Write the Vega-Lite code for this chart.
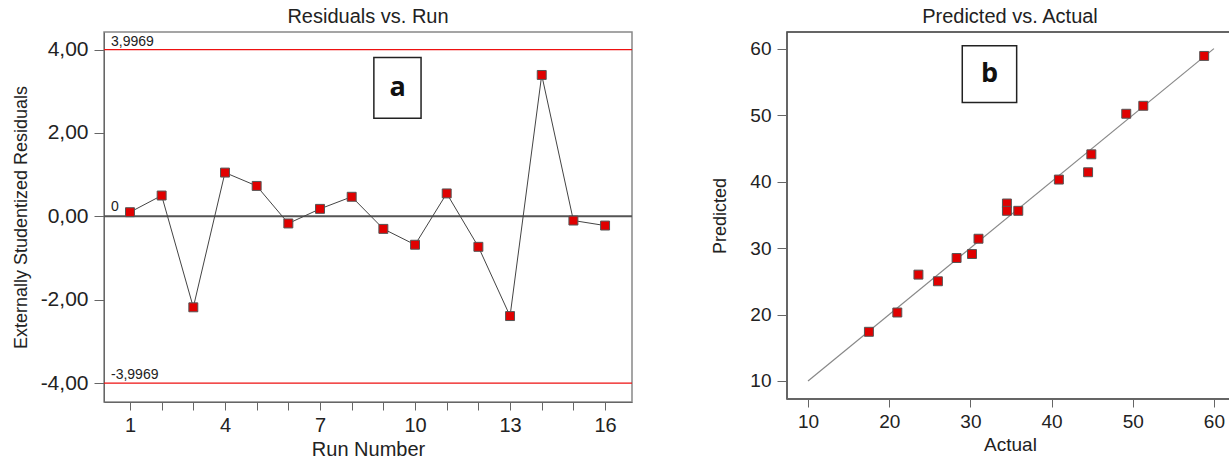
{
  "$schema": "https://vega.github.io/schema/vega-lite/v6.json",
  "padding": {"left": 11, "top": 6, "right": 0, "bottom": 0},
  "spacing": 77,
  "background": "white",
  "datasets": {
    "resid": [
      {"run": 1, "res": 0.1}, {"run": 2, "res": 0.5}, {"run": 3, "res": -2.18},
      {"run": 4, "res": 1.05}, {"run": 5, "res": 0.73}, {"run": 6, "res": -0.17},
      {"run": 7, "res": 0.18}, {"run": 8, "res": 0.47}, {"run": 9, "res": -0.3},
      {"run": 10, "res": -0.68}, {"run": 11, "res": 0.55}, {"run": 12, "res": -0.73},
      {"run": 13, "res": -2.39}, {"run": 14, "res": 3.39}, {"run": 15, "res": -0.1},
      {"run": 16, "res": -0.22}
    ],
    "limits": [
      {"res": 3.9969, "label": "3,9969", "run": 0.4},
      {"res": -3.9969, "label": "-3,9969", "run": 0.4}
    ],
    "zero": [{"res": 0, "label": "0", "run": 0.4}],
    "boxa": [{"run": 8.7, "run2": 10.19, "res": 3.81, "res2": 2.35, "label": "a", "mid": 9.45, "midy": 3.08}],
    "pva": [
      {"actual": 17.5, "pred": 17.4}, {"actual": 21.0, "pred": 20.3}, {"actual": 23.6, "pred": 26.0},
      {"actual": 26.0, "pred": 25.0}, {"actual": 28.3, "pred": 28.5}, {"actual": 30.2, "pred": 29.1},
      {"actual": 31.0, "pred": 31.4}, {"actual": 34.5, "pred": 36.7}, {"actual": 34.5, "pred": 35.6},
      {"actual": 35.9, "pred": 35.6}, {"actual": 40.9, "pred": 40.3}, {"actual": 44.5, "pred": 41.4},
      {"actual": 44.9, "pred": 44.1}, {"actual": 49.2, "pred": 50.2}, {"actual": 51.3, "pred": 51.4},
      {"actual": 58.8, "pred": 58.9}
    ],
    "diag": [{"actual": 10, "pred": 10}, {"actual": 60, "pred": 60}],
    "boxb": [{"actual": 29.0, "actual2": 35.7, "pred": 60.45, "pred2": 51.9, "label": "b", "mid": 32.35, "midy": 56.2}]
  },
  "config": {
    "font": "Liberation Sans",
    "axis": {
      "labelFont": "Liberation Sans",
      "titleFont": "Liberation Sans",
      "titleFontWeight": "normal",
      "labelColor": "#222",
      "titleColor": "#222",
      "domainColor": "#666",
      "tickColor": "#666",
      "grid": false,
      "tickSize": 10,
      "labelPadding": 6
    },
    "title": {"font": "Liberation Sans", "fontWeight": "normal", "color": "#222", "fontSize": 20, "offset": 5}
  },
  "hconcat": [
    {
      "width": 528,
      "height": 370,
      "title": "Residuals vs. Run",
      "view": {"stroke": "#888", "strokeWidth": 1.5},
      "layer": [
        {
          "data": {"name": "limits"},
          "mark": {"type": "rule", "color": "#ee1111", "strokeWidth": 1.2},
          "encoding": {
            "y": {"field": "res", "type": "quantitative", "title": "Externally Studentized Residuals"}
          }
        },
        {
          "data": {"name": "zero"},
          "mark": {"type": "rule", "color": "#555", "strokeWidth": 2},
          "encoding": {
            "y": {"field": "res", "type": "quantitative", "title": "Externally Studentized Residuals"}
          }
        },
        {
          "data": {"name": "limits"},
          "mark": {"type": "text", "align": "left", "baseline": "bottom", "dy": -1, "fontSize": 14, "color": "#222"},
          "encoding": {
            "x": {"field": "run", "type": "quantitative", "title": "Run Number"},
            "y": {"field": "res", "type": "quantitative", "title": "Externally Studentized Residuals"},
            "text": {"field": "label"}
          }
        },
        {
          "data": {"name": "zero"},
          "mark": {"type": "text", "align": "left", "baseline": "bottom", "dy": -2, "fontSize": 14, "color": "#222"},
          "encoding": {
            "x": {"field": "run", "type": "quantitative", "title": "Run Number"},
            "y": {"field": "res", "type": "quantitative", "title": "Externally Studentized Residuals"},
            "text": {"field": "label"}
          }
        },
        {
          "data": {"name": "boxa"},
          "mark": {"type": "rect", "fill": "white", "stroke": "#222", "strokeWidth": 1.5},
          "encoding": {
            "x": {"field": "run", "type": "quantitative", "title": "Run Number"},
            "x2": {"field": "run2"},
            "y": {"field": "res", "type": "quantitative", "title": "Externally Studentized Residuals"},
            "y2": {"field": "res2"}
          }
        },
        {
          "data": {"name": "boxa"},
          "mark": {"type": "text", "font": "Open Sans", "fontWeight": "bold", "fontSize": 27, "color": "#111", "baseline": "middle"},
          "encoding": {
            "x": {"field": "mid", "type": "quantitative", "title": "Run Number"},
            "y": {"field": "midy", "type": "quantitative", "title": "Externally Studentized Residuals"},
            "text": {"field": "label"}
          }
        },
        {
          "data": {"name": "resid"},
          "mark": {"type": "line", "color": "#444", "strokeWidth": 1},
          "encoding": {
            "x": {"field": "run", "type": "quantitative", "title": "Run Number"},
            "y": {"field": "res", "type": "quantitative", "title": "Externally Studentized Residuals"}
          }
        },
        {
          "data": {"name": "resid"},
          "mark": {"type": "point", "shape": "square", "size": 80, "filled": true, "fill": "#e00000", "stroke": "#555", "strokeWidth": 1, "opacity": 1},
          "encoding": {
            "x": {
              "field": "run", "type": "quantitative", "title": "Run Number",
              "scale": {"domain": [0.18, 16.85], "nice": false, "zero": false},
              "axis": {
                "values": [1, 2, 3, 4, 5, 6, 7, 8, 9, 10, 11, 12, 13, 14, 15, 16],
                "tickCount": 20,
                "labelOpacity": {"condition": {"test": "datum.value == 1 || datum.value == 4 || datum.value == 7 || datum.value == 10 || datum.value == 13 || datum.value == 16", "value": 1}, "value": 0},
                "labelOverlap": false,
                "tickSize": 8,
                "labelPadding": 5,
                "labelFontSize": 20, "titleFontSize": 20, "titlePadding": 4, "labelFlush": false
              }
            },
            "y": {
              "field": "res", "type": "quantitative", "title": "Externally Studentized Residuals",
              "scale": {"domain": [-4.45, 4.42], "nice": false, "zero": false},
              "axis": {
                "values": [-4, -2, 0, 2, 4],
                "labelExpr": "replace(replace(format(datum.value, '.2f'), '.', ','), '−', '-')",
                "labelFontSize": 21, "titleFontSize": 18, "titlePadding": 10
              }
            }
          }
        }
      ]
    },
    {
      "width": 446,
      "height": 367,
      "title": "Predicted vs. Actual",
      "view": {"stroke": "#333", "strokeWidth": 1.5},
      "layer": [
        {
          "data": {"name": "diag"},
          "mark": {"type": "line", "color": "#888", "strokeWidth": 1.2},
          "encoding": {
            "x": {"field": "actual", "type": "quantitative", "title": "Actual"},
            "y": {"field": "pred", "type": "quantitative", "title": "Predicted"}
          }
        },
        {
          "data": {"name": "boxb"},
          "mark": {"type": "rect", "fill": "white", "stroke": "#222", "strokeWidth": 1.5},
          "encoding": {
            "x": {"field": "actual", "type": "quantitative", "title": "Actual"},
            "x2": {"field": "actual2"},
            "y": {"field": "pred", "type": "quantitative", "title": "Predicted"},
            "y2": {"field": "pred2"}
          }
        },
        {
          "data": {"name": "boxb"},
          "mark": {"type": "text", "font": "Open Sans", "fontWeight": "bold", "fontSize": 27, "color": "#111", "baseline": "middle"},
          "encoding": {
            "x": {"field": "mid", "type": "quantitative", "title": "Actual"},
            "y": {"field": "midy", "type": "quantitative", "title": "Predicted"},
            "text": {"field": "label"}
          }
        },
        {
          "data": {"name": "pva"},
          "mark": {"type": "point", "shape": "square", "size": 80, "filled": true, "fill": "#e00000", "stroke": "#555", "strokeWidth": 1, "opacity": 1},
          "encoding": {
            "x": {
              "field": "actual", "type": "quantitative", "title": "Actual",
              "scale": {"domain": [7.41, 62.35], "nice": false, "zero": false},
              "axis": {"values": [10, 20, 30, 40, 50, 60], "tickSize": 8, "labelPadding": 5, "labelFontSize": 19, "titleFontSize": 19, "titlePadding": 4, "labelFlush": false}
            },
            "y": {
              "field": "pred", "type": "quantitative", "title": "Predicted",
              "scale": {"domain": [7.29, 62.5], "nice": false, "zero": false},
              "axis": {"values": [10, 20, 30, 40, 50, 60], "labelFontSize": 19, "titleFontSize": 18, "titlePadding": 20}
            }
          }
        }
      ]
    }
  ]
}
